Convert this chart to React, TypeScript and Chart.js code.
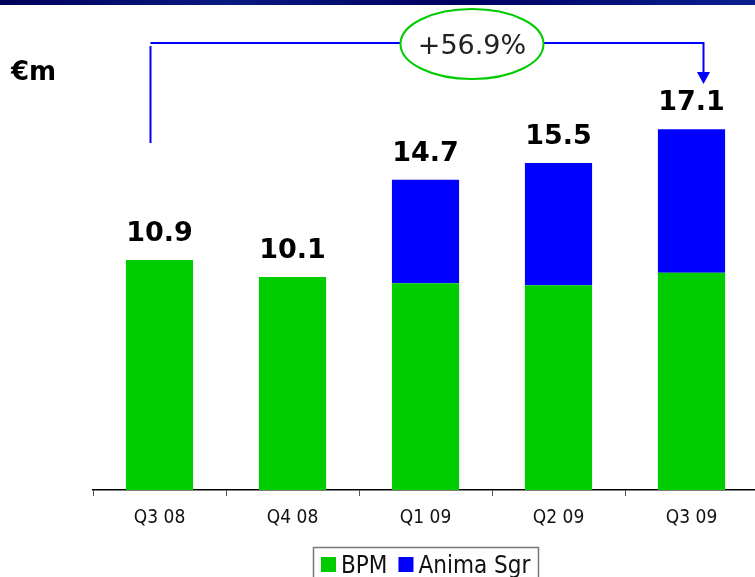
import React, { useEffect, useRef } from "react";
import { Chart, registerables } from "chart.js";

Chart.register(...registerables);

const categories = ["Q3 08", "Q4 08", "Q1 09", "Q2 09", "Q3 09"];
const bpmValues = [10.9, 10.1, 9.8, 9.7, 10.3];
const animaValues = [0, 0, 4.9, 5.8, 6.8];
const seriesNames = ["BPM", "Anima Sgr"];
const seriesColors = ["#00CC00", "#0000FF"];
const unitLabel = "€m";

const totals = categories.map((_, i) => bpmValues[i] + animaValues[i]);
const growth = (totals[totals.length - 1] / totals[0] - 1) * 100;
const growthLabel = "+" + growth.toFixed(1) + "%";

const FONT = "'DejaVu Sans', Verdana, sans-serif";
const COND = "'DejaVu Sans Condensed', 'DejaVu Sans', sans-serif";

const decorPlugin = {
  id: "decor",
  afterDraw(chart: any) {
    const ctx = chart.ctx as CanvasRenderingContext2D;
    const xs = chart.scales.x;
    const ys = chart.scales.y;
    ctx.save();

    // top band
    const g = ctx.createLinearGradient(0, 0, 755, 0);
    g.addColorStop(0, "#00005a");
    g.addColorStop(0.3, "#0a1a80");
    g.addColorStop(0.6, "#000060");
    g.addColorStop(1, "#0a2090");
    ctx.fillStyle = g;
    ctx.fillRect(0, 0, chart.width, 5);

    // unit label
    ctx.fillStyle = "#000";
    ctx.font = `bold 26px ${FONT}`;
    ctx.textAlign = "left";
    ctx.textBaseline = "alphabetic";
    ctx.fillText(unitLabel, 11, 80);

    // totals
    ctx.font = `bold 27px ${FONT}`;
    ctx.textAlign = "center";
    totals.forEach((t, i) => {
      const x = xs.getPixelForValue(i);
      const y = ys.getPixelForValue(t);
      ctx.fillText(t.toFixed(1), x, y - 19);
    });

    // bracket
    const lx = xs.getPixelForValue(0) - 9;
    const rx = xs.getPixelForValue(categories.length - 1) + 12;
    const ty = 43;
    const ecx = 472, ecy = 44, erx = 71.5, ery = 35;
    ctx.strokeStyle = "#0000FF";
    ctx.lineWidth = 2;
    ctx.beginPath();
    ctx.moveTo(lx, 143);
    ctx.lineTo(lx, ty + 3);
    ctx.moveTo(lx, ty);
    ctx.lineTo(ecx - erx, ty);
    ctx.moveTo(ecx + erx, ty);
    ctx.lineTo(rx, ty);
    ctx.lineTo(rx, 73);
    ctx.stroke();
    ctx.fillStyle = "#0000FF";
    ctx.beginPath();
    ctx.moveTo(rx - 6.5, 72);
    ctx.lineTo(rx + 6.5, 72);
    ctx.lineTo(rx, 84);
    ctx.closePath();
    ctx.fill();

    // ellipse
    ctx.strokeStyle = "#00CC00";
    ctx.lineWidth = 2;
    ctx.beginPath();
    ctx.ellipse(ecx, ecy, erx, ery, 0, 0, Math.PI * 2);
    ctx.stroke();
    ctx.fillStyle = "#222";
    ctx.font = `27px ${FONT}`;
    ctx.textAlign = "center";
    ctx.textBaseline = "middle";
    ctx.fillText(growthLabel, ecx, ecy + 3);

    // legend
    ctx.strokeStyle = "#777";
    ctx.lineWidth = 1.5;
    ctx.strokeRect(313.5, 547.5, 225, 40);
    ctx.font = `24px ${COND}`;
    ctx.textAlign = "left";
    ctx.textBaseline = "alphabetic";
    let x = 321;
    seriesNames.forEach((name, i) => {
      ctx.fillStyle = seriesColors[i];
      ctx.fillRect(x, 557, 15, 15);
      ctx.fillStyle = "#111";
      ctx.fillText(name, x + 20, 573);
      x += 20 + ctx.measureText(name).width + 11;
    });

    ctx.restore();
  },
};

export default function App() {
  const ref = useRef<HTMLCanvasElement | null>(null);
  useEffect(() => {
    if (!ref.current) return;
    const chart = new Chart(ref.current, {
      type: "bar",
      data: {
        labels: categories,
        datasets: [
          {
            label: seriesNames[0],
            data: bpmValues,
            backgroundColor: seriesColors[0],
            borderWidth: 0,
            categoryPercentage: 1,
            barPercentage: 0.505,
          },
          {
            label: seriesNames[1],
            data: animaValues,
            backgroundColor: seriesColors[1],
            borderWidth: 0,
            categoryPercentage: 1,
            barPercentage: 0.505,
          },
        ],
      },
      options: {
        responsive: false,
        maintainAspectRatio: false,
        devicePixelRatio: 1,
        animation: false,
        layout: { padding: { left: 93, top: 68, right: 0, bottom: 0 } },
        plugins: {
          legend: { display: false },
          tooltip: { enabled: false },
        },
        scales: {
          x: {
            stacked: true,
            afterFit: (scale: any) => {
              scale.height = 87;
            },
            grid: {
              display: true,
              drawOnChartArea: false,
              drawTicks: true,
              tickLength: 6,
              color: "#555",
              offset: true,
            },
            border: { display: true, color: "#000", width: 1.5 },
            ticks: {
              color: "#111",
              font: { family: COND, size: 19 },
              padding: 11,
              maxRotation: 0,
            },
          },
          y: {
            stacked: true,
            display: false,
            min: 0,
            max: 20,
          },
        },
      },
      plugins: [decorPlugin],
    });
    return () => chart.destroy();
  }, []);
  return (
    <div style={{ position: "absolute", left: 0, top: 0, width: 755, height: 577, overflow: "hidden", background: "#fff" }}>
      <canvas ref={ref} width={758} height={577} style={{ width: 758, height: 577, display: "block" }} />
    </div>
  );
}
